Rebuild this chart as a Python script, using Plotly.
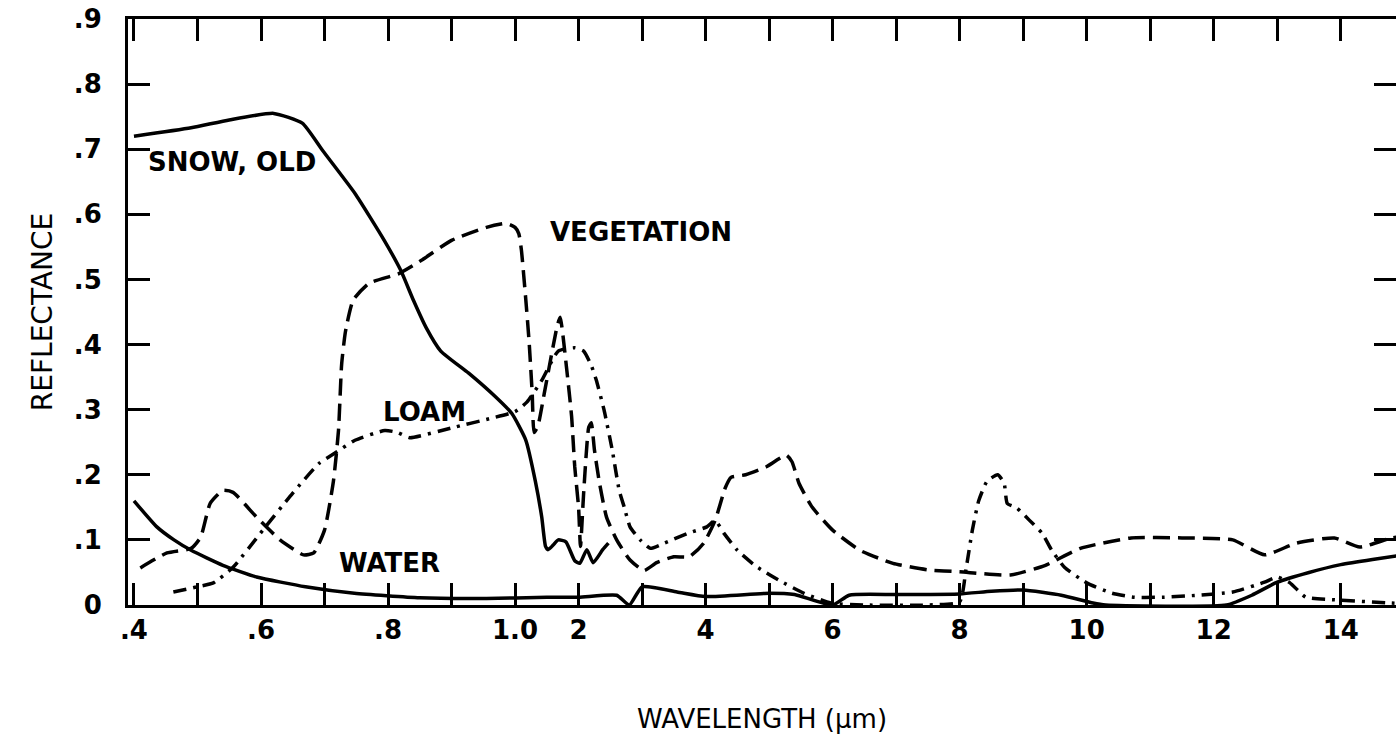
import plotly.graph_objects as go

# ---------------- data (wavelength in micrometres, reflectance) ----------------
snow_wl = [0.40, 0.49, 0.55, 0.62, 0.665, 0.697, 0.748, 0.794, 0.82, 0.84, 0.86, 0.883,
           0.927, 0.97, 0.995, 1.17, 1.32, 1.42, 1.48, 1.52, 1.60, 1.68, 1.80, 1.94, 2.02,
           2.13, 2.23, 2.38, 2.47]
snow_r = [0.720, 0.733, 0.745, 0.755, 0.740, 0.698, 0.632, 0.560, 0.514, 0.468, 0.426, 0.390,
          0.356, 0.319, 0.294, 0.253, 0.190, 0.135, 0.090, 0.085, 0.092, 0.100, 0.097, 0.068, 0.064,
          0.085, 0.065, 0.085, 0.095]

veg_wl = [0.41, 0.452, 0.49, 0.505, 0.52, 0.54, 0.556, 0.593, 0.63, 0.667, 0.683, 0.70, 0.714,
          0.722, 0.727, 0.733, 0.745, 0.77, 0.817, 0.852, 0.90, 0.955, 0.986, 1.0, 1.06, 1.10,
          1.17, 1.22, 1.27, 1.30, 1.36, 1.46, 1.66, 1.71, 1.81, 1.89, 1.94, 2.0, 2.03, 2.08, 2.16,
          2.20, 2.25, 2.33, 2.44, 2.60, 2.81, 3.03, 3.23, 3.50, 3.74, 3.97, 4.15, 4.31, 4.40,
          4.63, 4.95, 5.27, 5.36, 5.47, 5.68, 6.0, 6.43, 6.95, 7.5, 8.0, 8.8, 9.35, 9.9, 10.7,
          11.5, 12.3, 12.8, 13.3, 13.9, 14.3, 14.8, 15.0]
veg_r = [0.057, 0.080, 0.087, 0.104, 0.156, 0.176, 0.173, 0.135, 0.100, 0.077, 0.080, 0.115, 0.190,
         0.268, 0.370, 0.420, 0.468, 0.494, 0.509, 0.529, 0.560, 0.580, 0.586, 0.580, 0.570, 0.545,
         0.468, 0.406, 0.325, 0.265, 0.275, 0.325, 0.427, 0.442, 0.365, 0.290, 0.212, 0.150, 0.090,
         0.172, 0.273, 0.280, 0.238, 0.187, 0.135, 0.100, 0.069, 0.053, 0.065, 0.074, 0.074, 0.095,
         0.130, 0.180, 0.196, 0.200, 0.212, 0.230, 0.220, 0.187, 0.150, 0.115, 0.084, 0.064, 0.054,
         0.051, 0.046, 0.061, 0.087, 0.103, 0.103, 0.100, 0.077, 0.095, 0.103, 0.089, 0.103, 0.105]

loam_wl = [0.462, 0.50, 0.525, 0.556, 0.603, 0.65, 0.692, 0.716, 0.748, 0.795, 0.815, 0.834, 0.90,
           0.963, 1.0, 1.19, 1.42, 1.68, 1.94, 2.08, 2.20, 2.28, 2.40, 2.53, 2.64, 2.72, 2.81, 2.97,
           3.13, 3.35, 3.72, 4.02, 4.15, 4.29, 4.50, 4.80, 5.23, 5.55, 5.97, 6.5, 7.5, 8.0, 8.1,
           8.2, 8.3, 8.43, 8.6, 8.7, 8.75, 8.9, 9.1, 9.3, 9.45, 9.65, 10.0, 10.4, 10.75, 11.2,
           11.75, 12.3, 12.8, 13.0, 13.2, 13.45, 13.9, 14.8, 15.0]
loam_r = [0.020, 0.028, 0.034, 0.058, 0.115, 0.172, 0.218, 0.233, 0.253, 0.268, 0.265, 0.257, 0.272,
          0.287, 0.297, 0.312, 0.345, 0.390, 0.395, 0.390, 0.368, 0.345, 0.300, 0.238, 0.176, 0.150,
          0.120, 0.100, 0.087, 0.095, 0.110, 0.120, 0.130, 0.110, 0.084, 0.059, 0.034, 0.018, 0.003,
          0.0, 0.0, 0.005, 0.055, 0.115, 0.160, 0.190, 0.200, 0.187, 0.156, 0.149, 0.130, 0.110,
          0.084, 0.058, 0.034, 0.018, 0.012, 0.012, 0.015, 0.020, 0.035, 0.043, 0.034, 0.012, 0.008,
          0.003, 0.002]

water_wl = [0.40, 0.436, 0.463, 0.49, 0.54, 0.593, 0.67, 0.747, 0.85, 0.955, 1.5, 2.0, 2.6, 2.8,
            3.0, 3.55, 4.0, 5.0, 5.4, 6.0, 6.26, 7.0, 8.0, 8.5, 9.0, 9.6, 10.1, 10.3, 12.2, 12.6,
            13.0, 13.5, 14.0, 14.5, 15.0]
water_r = [0.160, 0.120, 0.100, 0.084, 0.061, 0.043, 0.028, 0.018, 0.011, 0.010, 0.012, 0.012, 0.015,
           0.0, 0.028, 0.020, 0.013, 0.018, 0.016, 0.0, 0.015, 0.016, 0.017, 0.021, 0.023, 0.015,
           0.003, 0.0, 0.0, 0.015, 0.035, 0.050, 0.062, 0.070, 0.077]

tick_wl = [0.4, 0.5, 0.6, 0.7, 0.8, 0.9, 1.0, 2, 3, 4, 5, 6, 7, 8, 9, 10, 11, 12, 13, 14]
tick_text = [".4", "", ".6", "", ".8", "", "1.0", "2", "", "4", "", "6", "", "8", "", "10", "", "12", "", "14"]
y_ticks = [0, 0.1, 0.2, 0.3, 0.4, 0.5, 0.6, 0.7, 0.8, 0.9]
y_text = ["0", ".1", ".2", ".3", ".4", ".5", ".6", ".7", ".8", ".9"]

labels = [("SNOW, OLD", 0.554, 0.68), ("VEGETATION", 2.98, 0.573), ("LOAM", 0.857, 0.296), ("WATER", 0.802, 0.065)]


def to_axis(wl):
    """Broken wavelength scale: 0.1 um steps up to 1.0 um, then 1 um steps."""
    return (wl - 0.4) * 10 if wl <= 1.0 else 6 + (wl - 1.0)


fig = go.Figure()
series = [
    (snow_wl, snow_r, "solid"),
    (veg_wl, veg_r, "17px,8px"),
    (loam_wl, loam_r, "13px,7px,3px,7px"),
    (water_wl, water_r, "solid"),
]
for wl, r, dash in series:
    fig.add_trace(go.Scatter(
        x=[to_axis(w) for w in wl], y=r, mode="lines",
        line=dict(color="black", width=3.5, dash=dash, shape="spline", smoothing=0.5),
        showlegend=False, hoverinfo="skip"))

for text, wl, r in labels:
    fig.add_annotation(x=to_axis(wl), y=r, text=text, showarrow=False,
                       font=dict(family="DejaVu Sans", size=26, color="black", weight="bold"))

axis_common = dict(
    ticks="inside", ticklen=22, tickwidth=3, tickcolor="black",
    showline=True, linewidth=3, linecolor="black", mirror="ticks",
    showgrid=False, zeroline=False, automargin=False, ticklabeloverflow="allow",
    tickfont=dict(family="DejaVu Sans", size=26, color="black", weight="bold"),
)

fig.update_xaxes(
    range=[-0.094, 19.87],
    tickmode="array", tickvals=[to_axis(w) for w in tick_wl], ticktext=tick_text,
    title=dict(text="WAVELENGTH (μm)", font=dict(family="DejaVu Sans", size=26, color="black"),
               standoff=66),
    ticklabelstandoff=0,
    **axis_common)
fig.update_yaxes(
    range=[0, 0.9],
    tickmode="array", tickvals=y_ticks, ticktext=y_text,
    title=dict(text="REFLECTANCE", font=dict(family="DejaVu Sans", size=28, color="black"),
               standoff=14),
    ticklabelstandoff=18,
    **axis_common)

fig.update_layout(
    width=1396, height=747,
    margin=dict(l=128, r=0, t=19, b=142),
    paper_bgcolor="white", plot_bgcolor="white",
)

# remove the default 8px page margin so the figure fills the window exactly
fig.write_html("out.html", config={"displayModeBar": False},
               post_script="document.body.style.margin='0';")
